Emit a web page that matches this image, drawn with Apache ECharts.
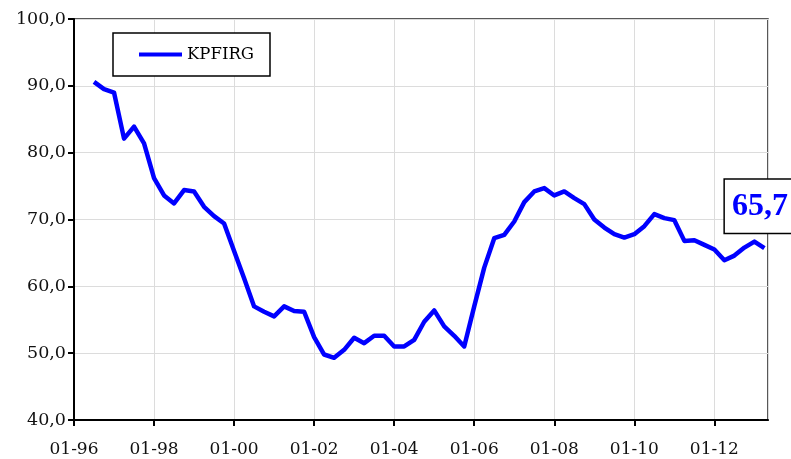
<!DOCTYPE html>
<html>
<head>
<meta charset="utf-8">
<script src="https://cdn.jsdelivr.net/npm/echarts@6/dist/echarts.min.js"></script>
<style>html,body{margin:0;padding:0;background:#fff}#c{width:791px;height:459px}</style>
</head>
<body>
<div id="c"></div>
<script>
// Quarterly observation dates (YYYY-MM)
const dates = [
  "1996-07","1996-10",
  "1997-01","1997-04","1997-07","1997-10",
  "1998-01","1998-04","1998-07","1998-10",
  "1999-01","1999-04","1999-07","1999-10",
  "2000-01","2000-04","2000-07","2000-10",
  "2001-01","2001-04","2001-07","2001-10",
  "2002-01","2002-04","2002-07","2002-10",
  "2003-01","2003-04","2003-07","2003-10",
  "2004-01","2004-04","2004-07","2004-10",
  "2005-01","2005-04","2005-07","2005-10",
  "2006-01","2006-04","2006-07","2006-10",
  "2007-01","2007-04","2007-07","2007-10",
  "2008-01","2008-04","2008-07","2008-10",
  "2009-01","2009-04","2009-07","2009-10",
  "2010-01","2010-04","2010-07","2010-10",
  "2011-01","2011-04","2011-07","2011-10",
  "2012-01","2012-04","2012-07","2012-10",
  "2013-01","2013-04"
];
// KPFIRG values
const kpfirg = [
  90.6, 89.5,
  89.0, 82.1, 83.9, 81.4,
  76.2, 73.6, 72.4, 74.4,
  74.2, 71.9, 70.5, 69.4,
  65.3, 61.2, 57.0, 56.2,
  55.5, 57.0, 56.3, 56.2,
  52.4, 49.8, 49.3, 50.5,
  52.3, 51.5, 52.6, 52.6,
  51.0, 51.0, 52.0, 54.7,
  56.4, 54.0, 52.6, 51.0,
  57.0, 62.8, 67.2, 67.7,
  69.7, 72.6, 74.2, 74.7,
  73.6, 74.2, 73.2, 72.3,
  70.0, 68.8, 67.8, 67.3,
  67.8, 69.0, 70.8, 70.2,
  69.9, 66.8, 66.9, 66.2,
  65.5, 63.9, 64.6, 65.8,
  66.7, 65.7
];
const seriesName = "KPFIRG";
const yTicks = [40, 50, 60, 70, 80, 90, 100];
const xTickYears = [1996, 1998, 2000, 2002, 2004, 2006, 2008, 2010, 2012];

function toYear(s) {
  const [y, m] = s.split("-").map(Number);
  return y + (m - 1) / 12;
}
const points = dates.map((d, i) => [toYear(d), kpfirg[i]]);
const last = points[points.length - 1];
const fmtComma = v => v.toFixed(1).replace(".", ",");

const chart = echarts.init(document.getElementById("c"), null, { renderer: "canvas" });
const serif = "DejaVu Serif";
chart.setOption({
  animation: false,
  backgroundColor: "#fff",
  grid: {
    left: 74, right: 23, top: 19, bottom: 39,
    show: true, borderColor: "#222", borderWidth: 1.5, backgroundColor: "transparent"
  },
  legend: {
    left: 113, top: 33,
    data: [seriesName],
    icon: "rect", itemWidth: 43, itemHeight: 4, itemGap: 0,
    padding: [13, 16, 13, 26],
    borderColor: "#000", borderWidth: 1.5, backgroundColor: "#fff",
    textStyle: { fontFamily: serif, fontSize: 16.5, color: "#000", lineHeight: 17, padding: [0, 0, 0, 0] }
  },
  xAxis: {
    type: "value",
    min: xTickYears[0],
    max: 2013.34,
    interval: 2,
    axisLine: { show: true, lineStyle: { color: "#000", width: 2 } },
    axisTick: { show: true, length: 6, lineStyle: { color: "#000", width: 2 } },
    axisLabel: {
      fontFamily: serif, fontSize: 17, color: "#111", margin: 21,
      showMaxLabel: false,
      formatter: v => "01-" + String(Math.round(v) % 100).padStart(2, "0")
    },
    splitLine: { show: true, lineStyle: { color: "#dcdcdc", width: 1 } }
  },
  yAxis: {
    type: "value",
    min: yTicks[0], max: yTicks[yTicks.length - 1], interval: 10,
    axisLine: { show: true, lineStyle: { color: "#000", width: 2 } },
    axisTick: { show: true, length: 6, lineStyle: { color: "#000", width: 2 } },
    axisLabel: { fontFamily: serif, fontSize: 17.5, color: "#111", margin: 8, formatter: v => fmtComma(v) },
    splitLine: { show: true, lineStyle: { color: "#dcdcdc", width: 1 } }
  },
  series: [{
    name: seriesName,
    type: "line",
    data: points,
    showSymbol: false,
    symbol: "none",
    lineStyle: { color: "#0000ff", width: 4.5, join: "round" },
    itemStyle: { color: "#0000ff" },
    markPoint: {
      symbol: "rect", symbolSize: 1,
      itemStyle: { color: "transparent" },
      data: [{
        coord: last,
        label: {
          show: true,
          position: "top",
          distance: 0,
          offset: [-4, -15],
          formatter: fmtComma(last[1]),
          fontFamily: "Liberation Serif",
          fontWeight: "bold",
          fontSize: 32,
          lineHeight: 33,
          color: "#0000ff",
          backgroundColor: "#fff",
          borderColor: "#000",
          borderWidth: 1.5,
          padding: [10, 8, 10, 7]
        }
      }]
    }
  }]
});
</script>
</body>
</html>
